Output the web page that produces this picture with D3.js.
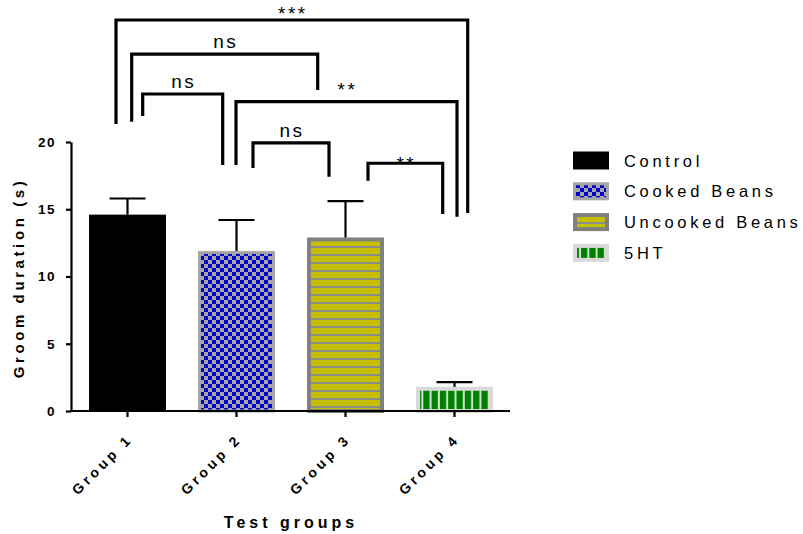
<!DOCTYPE html>
<html>
<head>
<meta charset="utf-8">
<script src="https://cdn.jsdelivr.net/npm/d3@7"></script>
<style>
  html, body { margin: 0; padding: 0; background: #fff; }
  svg { display: block; }
  text { font-family: "Liberation Sans", Arial, sans-serif; fill: #000; }
</style>
</head>
<body>
<svg id="chart" width="803" height="534"></svg>
<script>
// ---------- data ----------
const groups = ["Group 1", "Group 2", "Group 3", "Group 4"];
const seriesNames = ["Control", "Cooked Beans", "Uncooked Beans", "5HT"];
const means = [14.6, 11.9, 12.9, 1.8];
const errorTop = [15.8, 14.2, 15.6, 2.15];
const yTicks = [0, 5, 10, 15, 20];
const yLabel = "Groom duration (s)";
const xLabel = "Test groups";
// significance comparisons: [from group index, to group index, label]
const comparisons = [
  [0, 3, "***"],
  [0, 2, "ns"],
  [0, 1, "ns"],
  [1, 3, "**"],
  [1, 2, "ns"],
  [2, 3, "**"]
];
// bracket heights (data units): line level, left leg end, right leg end, label level
const bracketLevels = [
  [29.07, 21.34, 14.72, 29.1],
  [26.54, 21.51, 23.87, 27.0],
  [23.57, 21.93, 18.29, 24.0],
  [23.00, 18.29, 14.45, 23.45],
  [19.93, 18.07, 17.42, 20.4],
  [18.42, 17.12, 14.65, 17.9]
];
// horizontal offsets (px) of bracket ends from group centres
const bracketOffsets = [
  [-11.5, 13.2],
  [4.2, -27.8],
  [15.2, -13.8],
  [-0.5, 2.5],
  [16.5, -16.5],
  [22.5, -11.8]
];

// ---------- styles ----------
const barStyles = [
  { fill: "#000000", stroke: "#000000", sw: 0 },
  { fill: "url(#checker)", stroke: "#a6a6a6", sw: 3 },
  { fill: "url(#hstripe)", stroke: "#808080", sw: 4 },
  { fill: "url(#vstripe)", stroke: "#d9d9d9", sw: 4 }
];

const svg = d3.select("#chart");
const defs = svg.append("defs");

// checkerboard
const pc = defs.append("pattern").attr("id", "checker").attr("patternUnits", "userSpaceOnUse")
  .attr("width", 8).attr("height", 8);
pc.append("rect").attr("width", 8).attr("height", 8).attr("fill", "#a6a6a6");
pc.append("rect").attr("x", 0).attr("y", 0).attr("width", 4).attr("height", 4).attr("fill", "#0000cc");
pc.append("rect").attr("x", 4).attr("y", 4).attr("width", 4).attr("height", 4).attr("fill", "#0000cc");

// horizontal stripes
const ph = defs.append("pattern").attr("id", "hstripe").attr("patternUnits", "userSpaceOnUse")
  .attr("width", 8).attr("height", 8);
ph.append("rect").attr("width", 8).attr("height", 8).attr("fill", "#c4c000");
ph.append("rect").attr("x", 0).attr("y", 6).attr("width", 8).attr("height", 2).attr("fill", "#8c8c8c");

// vertical stripes
const pv = defs.append("pattern").attr("id", "vstripe").attr("patternUnits", "userSpaceOnUse")
  .attr("width", 8.3).attr("height", 8);
pv.append("rect").attr("width", 8.3).attr("height", 8).attr("fill", "#008000");
pv.append("rect").attr("x", 6.3).attr("y", 0).attr("width", 2).attr("height", 8).attr("fill", "#cfe3cf");

// ---------- scales ----------
const y = d3.scaleLinear().domain([0, 20]).range([411, 142]);
const x = d3.scaleBand().domain(groups).range([73, 509]).paddingInner(0.294).paddingOuter(0.147);
const cx = g => x(g) + x.bandwidth() / 2;

// ---------- bars ----------
const bars = svg.append("g");
groups.forEach((g, i) => {
  const s = barStyles[i];
  const x0 = x(g), w = x.bandwidth();
  const yt = y(means[i]), yb = y(0);
  bars.append("rect")
    .attr("x", x0 + s.sw / 2)
    .attr("y", yt + s.sw / 2)
    .attr("width", w - s.sw)
    .attr("height", yb - yt - s.sw / 2)
    .attr("fill", s.fill)
    .attr("stroke", s.sw ? s.stroke : "none")
    .attr("stroke-width", s.sw);
});

// ---------- error bars ----------
const err = svg.append("g").attr("stroke", "#000").attr("stroke-width", 2.2);
groups.forEach((g, i) => {
  const c = cx(g);
  err.append("line").attr("x1", c).attr("x2", c).attr("y1", y(means[i])).attr("y2", y(errorTop[i]));
  err.append("line").attr("x1", c - 18).attr("x2", c + 18).attr("y1", y(errorTop[i])).attr("y2", y(errorTop[i]));
});

// ---------- axes ----------
const yAxis = d3.axisLeft(y).tickValues(yTicks).tickSize(5).tickSizeOuter(0).tickPadding(10);
const gy = svg.append("g").attr("transform", "translate(71,0)").call(yAxis);
gy.select(".domain").attr("stroke-width", 2.2);
gy.selectAll(".tick line").attr("stroke-width", 2.2);
gy.selectAll(".tick text")
  .style("font-family", '"Liberation Sans", Arial, sans-serif')
  .style("font-size", "13.5px").style("font-weight", "bold").style("letter-spacing", "1.5px");

const xAxis = d3.axisBottom(x).tickSize(6).tickSizeOuter(0).tickFormat("");
const gx = svg.append("g").attr("transform", "translate(0,411)").call(xAxis);
gx.select(".domain").attr("d", "M71,0H510").attr("stroke-width", 2.2);
gx.selectAll(".tick line").attr("stroke-width", 2.2);

// rotated x tick labels
const xl = svg.append("g");
groups.forEach(g => {
  xl.append("text")
    .attr("transform", `translate(${cx(g) + 6},${440}) rotate(-45)`)
    .attr("text-anchor", "end")
    .style("font-size", "14px").style("font-weight", "bold").style("letter-spacing", "3.6px")
    .text(g);
});

// axis titles
svg.append("text")
  .attr("transform", "translate(24,278) rotate(-90)")
  .attr("text-anchor", "middle")
  .style("font-size", "15px").style("font-weight", "bold").style("letter-spacing", "3.6px")
  .text(yLabel);

svg.append("text")
  .attr("x", 291).attr("y", 528)
  .attr("text-anchor", "middle")
  .style("font-size", "16px").style("font-weight", "bold").style("letter-spacing", "4px")
  .text(xLabel);

// ---------- significance brackets ----------
const br = svg.append("g");
comparisons.forEach((c, i) => {
  const [a, b, label] = c;
  const [lv, l1, l2, lt] = bracketLevels[i];
  const [o1, o2] = bracketOffsets[i];
  const xa = cx(groups[a]) + o1, xb = cx(groups[b]) + o2;
  br.append("path")
    .attr("d", `M${xa},${y(l1)}V${y(lv)}H${xb}V${y(l2)}`)
    .attr("fill", "none").attr("stroke", "#000").attr("stroke-width", 3.2);
  br.append("text")
    .attr("x", (xa + xb) / 2 + 1).attr("y", y(lt))
    .attr("text-anchor", "middle")
    .style("font-size", "19px").style("letter-spacing", "2.5px")
    .text(label);
});

// ---------- legend ----------
const legend = svg.append("g");
seriesNames.forEach((name, i) => {
  const s = barStyles[i];
  const ly = 151.5 + i * 30.8;
  legend.append("rect")
    .attr("x", 573 + s.sw / 2).attr("y", ly + s.sw / 2)
    .attr("width", 36 - s.sw).attr("height", 18 - s.sw)
    .attr("fill", s.fill)
    .attr("stroke", s.sw ? s.stroke : "none").attr("stroke-width", s.sw);
  legend.append("text")
    .attr("x", 624).attr("y", ly + 15)
    .style("font-size", "16.5px").style("letter-spacing", "3.7px")
    .text(name);
});
</script>
</body>
</html>
